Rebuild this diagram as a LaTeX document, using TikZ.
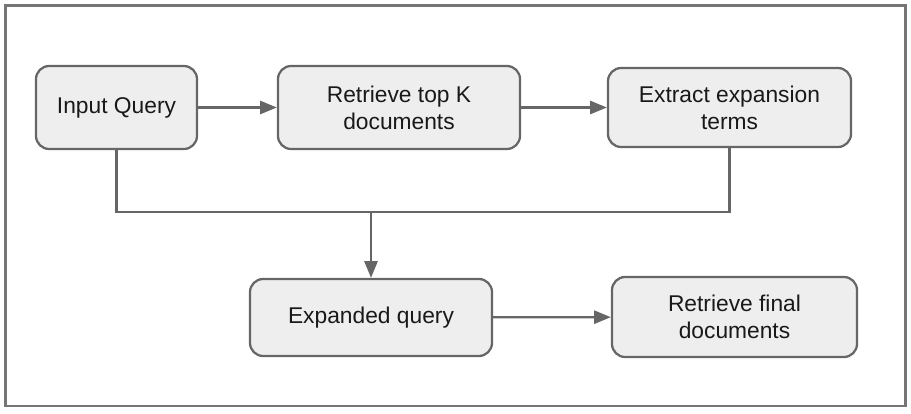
\documentclass[tikz,border=0pt]{standalone}
\usepackage{fontspec}
\setmainfont{Liberation Sans}
\usetikzlibrary{arrows.meta}

\definecolor{linegray}{HTML}{666666}
\definecolor{boxgray}{HTML}{EEEEEE}

\tikzset{
    stepbox/.style={draw=linegray, fill=boxgray, line width=1.6pt, rounded corners=0.33cm,
        align=center, inner sep=0pt, text=black!90,
        font=\fontsize{16.2}{19.2}\selectfont},
    flow/.style={draw=linegray, line width=1.6pt, -{Triangle[length=0.42cm,width=0.33cm]}},
    link/.style={draw=linegray, line width=1.6pt},
}

\begin{document}
\begin{tikzpicture}[x=0.025cm, y=-0.025cm]
    % Frame
    \useasboundingbox (0,0) rectangle (911,413);
    \draw[linegray!90, line width=1.5pt] (5.5,5.5) rectangle (905.5,406);

    % Steps
    \node[stepbox, minimum width=4.025cm, minimum height=2.075cm] (query) at (116.5,107.5) {Input Query};
    \node[stepbox, minimum width=6.05cm, minimum height=2.075cm] (topk) at (399,107.5) {Retrieve top K\\documents};
    \node[stepbox, minimum width=6.075cm, minimum height=1.975cm] (terms) at (729.5,107.5) {Extract expansion\\terms};
    \node[stepbox, minimum width=6.05cm, minimum height=1.925cm] (expanded) at (371,317.5) {Expanded query};
    \node[stepbox, minimum width=6.125cm, minimum height=2cm] (final) at (734.5,317) {Retrieve final\\documents};

    % Connectors
    \coordinate (join) at (371,212);
    \draw[flow] (query) -- (topk);
    \draw[flow] (topk) -- (terms);
    \draw[link] (query.south) |- (join) -| (terms.south);
    \draw[flow] (join) -- (expanded.north);
    \draw[flow] (expanded) -- (final);
\end{tikzpicture}
\end{document}
